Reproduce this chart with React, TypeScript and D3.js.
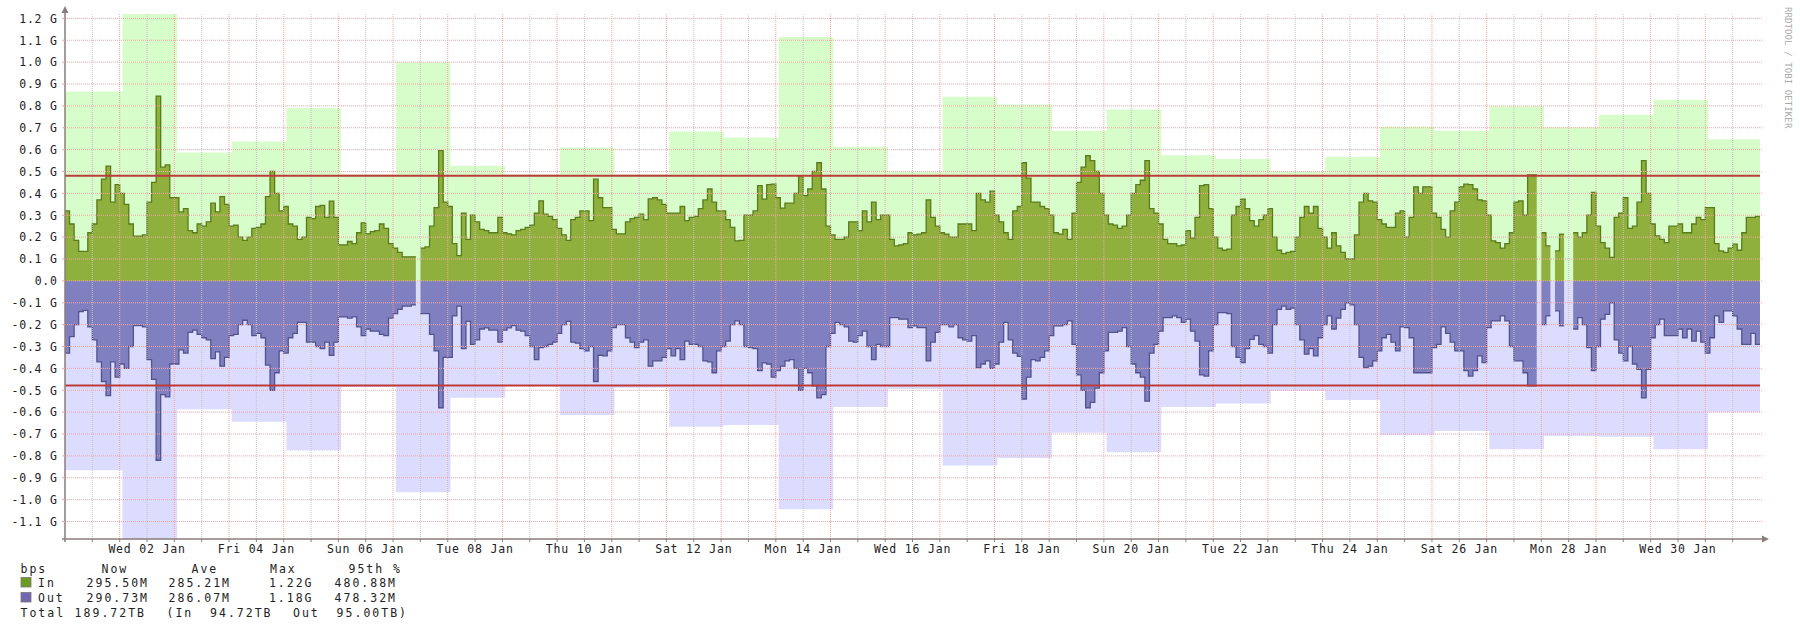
import React from 'react';
import * as d3 from 'd3';

// ---------- data (values in G bit/s) ----------
const START = Date.UTC(2019, 0, 1);
const END = Date.UTC(2019, 1, 1);
const DAY = 86400e3;
const STEP_HOURS = 2;
const MAX_OFFSET_HOURS = 1.2;

type V = number | null;

const inDays: V[][] = [
  [0.32, 0.26, 0.185, 0.135, 0.135, 0.22, 0.26, 0.37, 0.465, 0.525, 0.36, 0.44],
  [0.40, 0.35, 0.26, 0.205, 0.205, 0.21, 0.36, 0.45, 0.845, 0.52, 0.53, 0.38],
  [0.38, 0.315, 0.33, 0.23, 0.22, 0.26, 0.25, 0.27, 0.355, 0.315, 0.385, 0.35],
  [0.25, 0.255, 0.2, 0.185, 0.2, 0.24, 0.245, 0.26, 0.385, 0.5, 0.40, 0.32],
  [0.34, 0.26, 0.25, 0.19, 0.2, 0.29, 0.285, 0.34, 0.345, 0.29, 0.365, 0.29],
  [0.165, 0.165, 0.18, 0.17, 0.22, 0.265, 0.215, 0.225, 0.23, 0.26, 0.24, 0.17],
  [0.15, 0.13, 0.11, 0.11, 0.11, null, 0.15, 0.155, 0.25, 0.335, 0.595, 0.36],
  [0.34, 0.17, 0.115, 0.31, 0.19, 0.30, 0.27, 0.235, 0.23, 0.22, 0.22, 0.29],
  [0.22, 0.215, 0.21, 0.23, 0.235, 0.245, 0.255, 0.31, 0.366, 0.305, 0.295, 0.28],
  [0.24, 0.21, 0.185, 0.28, 0.29, 0.32, 0.32, 0.275, 0.465, 0.38, 0.335, 0.335],
  [0.235, 0.215, 0.215, 0.27, 0.285, 0.29, 0.305, 0.28, 0.375, 0.38, 0.37, 0.35],
  [0.31, 0.31, 0.31, 0.34, 0.275, 0.29, 0.295, 0.33, 0.37, 0.42, 0.36, 0.32],
  [0.32, 0.28, 0.245, 0.183, 0.185, 0.3, 0.3, 0.32, 0.435, 0.374, 0.44, 0.442],
  [0.38, 0.333, 0.355, 0.355, 0.40, 0.48, 0.39, 0.42, 0.50, 0.54, 0.42, 0.25],
  [0.21, 0.19, 0.19, 0.2, 0.27, 0.27, 0.23, 0.32, 0.27, 0.36, 0.28, 0.30],
  [0.30, 0.19, 0.16, 0.165, 0.17, 0.22, 0.21, 0.214, 0.22, 0.37, 0.29, 0.25],
  [0.22, 0.214, 0.2, 0.2, 0.26, 0.26, 0.26, 0.23, 0.40, 0.37, 0.36, 0.41],
  [0.30, 0.27, 0.22, 0.19, 0.32, 0.34, 0.54, 0.47, 0.36, 0.36, 0.34, 0.33],
  [0.30, 0.22, 0.214, 0.235, 0.19, 0.31, 0.45, 0.52, 0.572, 0.55, 0.50, 0.40],
  [0.30, 0.26, 0.255, 0.24, 0.25, 0.30, 0.40, 0.44, 0.46, 0.55, 0.33, 0.31],
  [0.26, 0.19, 0.17, 0.17, 0.16, 0.165, 0.23, 0.195, 0.29, 0.435, 0.44, 0.33],
  [0.2, 0.15, 0.14, 0.145, 0.30, 0.34, 0.374, 0.33, 0.275, 0.25, 0.28, 0.30],
  [0.33, 0.2, 0.14, 0.125, 0.13, 0.135, 0.20, 0.29, 0.34, 0.31, 0.34, 0.24],
  [0.20, 0.15, 0.22, 0.16, 0.13, 0.10, 0.10, 0.21, 0.36, 0.40, 0.366, 0.36],
  [0.28, 0.26, 0.245, 0.245, 0.31, 0.32, 0.20, 0.29, 0.43, 0.40, 0.43, 0.43],
  [0.31, 0.29, 0.235, 0.20, 0.32, 0.36, 0.43, 0.442, 0.44, 0.42, 0.37, 0.366],
  [0.30, 0.183, 0.175, 0.15, 0.17, 0.22, 0.36, 0.366, 0.30, 0.485, 0.485, null],
  [0.22, 0.16, null, 0.137, 0.214, null, null, 0.22, 0.20, 0.22, 0.30, 0.404],
  [0.25, 0.175, 0.15, 0.107, 0.29, 0.31, 0.38, 0.24, 0.25, 0.36, 0.55, 0.40],
  [0.26, 0.206, 0.19, 0.175, 0.25, 0.25, 0.26, 0.22, 0.22, 0.26, 0.29, 0.28],
  [0.335, 0.335, 0.17, 0.137, 0.13, 0.15, 0.168, 0.14, 0.22, 0.29, 0.29, 0.295],
];

const outDays: V[][] = [
  [0.33, 0.255, 0.2, 0.14, 0.135, 0.21, 0.27, 0.37, 0.46, 0.525, 0.37, 0.44],
  [0.38, 0.40, 0.30, 0.205, 0.205, 0.21, 0.36, 0.45, 0.82, 0.52, 0.53, 0.38],
  [0.38, 0.315, 0.33, 0.235, 0.225, 0.245, 0.26, 0.27, 0.355, 0.325, 0.39, 0.35],
  [0.25, 0.245, 0.2, 0.18, 0.2, 0.25, 0.24, 0.26, 0.385, 0.5, 0.42, 0.32],
  [0.33, 0.26, 0.24, 0.19, 0.19, 0.28, 0.28, 0.30, 0.31, 0.28, 0.34, 0.28],
  [0.165, 0.165, 0.17, 0.165, 0.21, 0.25, 0.22, 0.23, 0.23, 0.245, 0.25, 0.17],
  [0.15, 0.13, 0.115, 0.115, 0.11, null, 0.15, 0.15, 0.245, 0.32, 0.58, 0.35],
  [0.35, 0.16, 0.115, 0.31, 0.185, 0.29, 0.27, 0.22, 0.215, 0.225, 0.225, 0.28],
  [0.225, 0.215, 0.205, 0.225, 0.23, 0.25, 0.30, 0.36, 0.305, 0.30, 0.29, 0.28],
  [0.24, 0.2, 0.185, 0.28, 0.285, 0.31, 0.32, 0.30, 0.46, 0.34, 0.343, 0.32],
  [0.214, 0.2, 0.2, 0.26, 0.28, 0.305, 0.28, 0.27, 0.39, 0.366, 0.366, 0.35],
  [0.31, 0.343, 0.31, 0.36, 0.275, 0.29, 0.29, 0.30, 0.366, 0.37, 0.42, 0.32],
  [0.30, 0.275, 0.2, 0.183, 0.2, 0.3, 0.305, 0.31, 0.41, 0.375, 0.38, 0.44],
  [0.41, 0.39, 0.366, 0.36, 0.40, 0.50, 0.40, 0.42, 0.48, 0.535, 0.52, 0.3],
  [0.24, 0.19, 0.2, 0.21, 0.275, 0.28, 0.25, 0.23, 0.30, 0.36, 0.29, 0.30],
  [0.30, 0.168, 0.168, 0.175, 0.175, 0.214, 0.206, 0.214, 0.214, 0.366, 0.28, 0.235],
  [0.2, 0.2, 0.21, 0.2, 0.26, 0.27, 0.275, 0.25, 0.397, 0.38, 0.366, 0.40],
  [0.38, 0.28, 0.19, 0.27, 0.33, 0.345, 0.54, 0.44, 0.36, 0.366, 0.35, 0.32],
  [0.25, 0.206, 0.206, 0.2, 0.183, 0.29, 0.43, 0.50, 0.58, 0.555, 0.49, 0.42],
  [0.32, 0.235, 0.235, 0.23, 0.214, 0.30, 0.38, 0.42, 0.44, 0.55, 0.33, 0.29],
  [0.23, 0.168, 0.168, 0.16, 0.168, 0.19, 0.175, 0.23, 0.275, 0.43, 0.435, 0.32],
  [0.2, 0.145, 0.145, 0.15, 0.30, 0.35, 0.374, 0.31, 0.267, 0.25, 0.29, 0.30],
  [0.33, 0.2, 0.13, 0.115, 0.13, 0.125, 0.2, 0.27, 0.335, 0.31, 0.343, 0.26],
  [0.2, 0.16, 0.22, 0.17, 0.13, 0.10, 0.11, 0.2, 0.35, 0.397, 0.39, 0.366],
  [0.32, 0.26, 0.245, 0.28, 0.32, 0.21, 0.214, 0.26, 0.42, 0.42, 0.42, 0.42],
  [0.305, 0.29, 0.21, 0.24, 0.28, 0.32, 0.32, 0.41, 0.435, 0.41, 0.343, 0.374],
  [0.214, 0.183, 0.183, 0.16, 0.183, 0.3, 0.366, 0.366, 0.42, 0.48, 0.48, null],
  [0.2, 0.16, null, 0.137, 0.206, null, null, 0.22, 0.168, 0.2, 0.305, 0.41],
  [0.3, 0.175, 0.153, 0.1, 0.27, 0.33, 0.366, 0.30, 0.38, 0.404, 0.535, 0.404],
  [0.26, 0.2, 0.175, 0.25, 0.25, 0.25, 0.22, 0.26, 0.22, 0.275, 0.23, 0.28],
  [0.33, 0.26, 0.16, 0.19, 0.137, 0.137, 0.16, 0.22, 0.29, 0.29, 0.24, 0.29],
];

const inMax = [0.866, 1.22, 0.587, 0.637, 0.79, 0.488, 1.0, 0.526, 0.487, 0.61, 0.488, 0.683, 0.656, 1.115, 0.613, 0.498,
  0.842, 0.806, 0.686, 0.784, 0.574, 0.557, 0.5, 0.566, 0.706, 0.686, 0.798, 0.702, 0.76, 0.828, 0.648];
const outMax = [0.866, 1.18, 0.587, 0.644, 0.775, 0.485, 0.966, 0.534, 0.482, 0.613, 0.488, 0.667, 0.659, 1.044, 0.577, 0.494,
  0.844, 0.81, 0.694, 0.783, 0.577, 0.56, 0.503, 0.545, 0.706, 0.686, 0.77, 0.709, 0.712, 0.77, 0.6];

const in95 = 0.48088;
const out95 = 0.47832;

const yTickValues = [-1.1, -1.0, -0.9, -0.8, -0.7, -0.6, -0.5, -0.4, -0.3, -0.2, -0.1, 0, 0.1, 0.2, 0.3, 0.4, 0.5, 0.6, 0.7, 0.8, 0.9, 1.0, 1.1, 1.2];
const xLabelDays = [2, 4, 6, 8, 10, 12, 14, 16, 18, 20, 22, 24, 26, 28, 30];
const xLabels = ['Wed 02 Jan', 'Fri 04 Jan', 'Sun 06 Jan', 'Tue 08 Jan', 'Thu 10 Jan', 'Sat 12 Jan', 'Mon 14 Jan', 'Wed 16 Jan',
  'Fri 18 Jan', 'Sun 20 Jan', 'Tue 22 Jan', 'Thu 24 Jan', 'Sat 26 Jan', 'Mon 28 Jan', 'Wed 30 Jan'];

const legendHeaders = ['Now', 'Ave', 'Max', '95th %'];
const legendIn = ['295.50M', '285.21M', '1.22G', '480.88M'];
const legendOut = ['290.73M', '286.07M', '1.18G', '478.32M'];
const totalAll = '189.72TB';
const totalIn = '94.72TB';
const totalOut = '95.00TB';

// ---------- layout ----------
const W = 1800, H = 628;
const PL = 65, PR = 1760, PT = 14, PB = 539;
const FONT = '"DejaVu Sans Mono", monospace';
const C = {
  inMax: '#d6fdca', outMax: '#dcdcfe', inFill: '#90b03e', inLine: '#5a7a1c', outFill: '#8080c0', outLine: '#52528e',
  red: '#bd3b3b', gridMajor: '#f5a3a3', gridMinor: '#c4c4c4', axis: '#8a7d7d', text: '#222',
};

type P = { t: number; v: number | null };

function seriesPoints(days: V[][]): P[] {
  const step = STEP_HOURS * 3600e3;
  const pts: P[] = [];
  days.forEach((vals, d) => vals.forEach((v, k) => {
    const t0 = START + d * DAY + k * step;
    if (v == null) pts.push({ t: t0, v: null });
    else { pts.push({ t: t0, v }); pts.push({ t: t0 + step, v }); }
  }));
  return pts;
}

function maxPoints(vals: number[]): P[] {
  const off = MAX_OFFSET_HOURS * 3600e3;
  const pts: P[] = [];
  vals.forEach((v, i) => {
    const s = i === 0 ? START : START + i * DAY + off;
    const e = i === vals.length - 1 ? END : START + (i + 1) * DAY + off;
    pts.push({ t: s, v }); pts.push({ t: e, v });
  });
  return pts;
}

export default function App() {
  const x = d3.scaleUtc().domain([START, END]).range([PL, PR]);
  const y = d3.scaleLinear().domain([-1.18, 1.22]).range([PB, PT]);

  const areaUp = d3.area<P>().defined(p => p.v != null).x(p => x(p.t)).y0(y(0)).y1(p => y(p.v as number));
  const areaDown = d3.area<P>().defined(p => p.v != null).x(p => x(p.t)).y0(y(0)).y1(p => y(-(p.v as number)));
  const lineUp = d3.line<P>().defined(p => p.v != null).x(p => x(p.t)).y(p => y(p.v as number));
  const lineDown = d3.line<P>().defined(p => p.v != null).x(p => x(p.t)).y(p => y(-(p.v as number)));

  const inPts = seriesPoints(inDays);
  const outPts = seriesPoints(outDays);
  const inMaxPts = maxPoints(inMax);
  const outMaxPts = maxPoints(outMax);

  const halfDays = d3.range(1, 62).map(i => START + i * DAY / 2);
  const fmt = (v: number) => (Math.abs(v) < 1e-9 ? '0.0' : `${v.toFixed(1)} G`);

  const legendCols = [
    { head: 101.5, end: 149 },
    { head: 191.5, end: 231 },
    { head: 270, end: 313.5 },
    { head: 350, end: 397 },
  ];
  const lsAxis = 0.8;
  const lsLeg = 2.0;
  const fs = 11.5;

  return (
    <svg width={W} height={H} style={{ position: 'absolute', left: 0, top: 0, background: '#fff' }}
      fontFamily={FONT}>
      <rect x={0} y={0} width={W} height={H} fill="#fff" />
      {/* max areas */}
      <path d={areaUp(inMaxPts) || ''} fill={C.inMax} />
      <path d={areaDown(outMaxPts) || ''} fill={C.outMax} />
      {/* traffic areas */}
      <path d={areaUp(inPts) || ''} fill={C.inFill} />
      <path d={areaDown(outPts) || ''} fill={C.outFill} />
      <path d={lineUp(inPts) || ''} fill="none" stroke={C.inLine} strokeWidth={1.3} />
      <path d={lineDown(outPts) || ''} fill="none" stroke={C.outLine} strokeWidth={1.3} />

      {/* grid */}
      {halfDays.map((t, i) => (
        <line key={'v' + i} x1={x(t)} x2={x(t)} y1={PT} y2={PB}
          stroke={i % 2 === 1 ? C.gridMajor : C.gridMinor} strokeWidth={1} strokeDasharray="1,1" />
      ))}
      {yTickValues.map(v => (
        <line key={'h' + v} x1={PL} x2={PR + 3} y1={y(v)} y2={y(v)} stroke={C.gridMajor} strokeWidth={1} strokeDasharray="1,1" />
      ))}

      {/* 95th percentile lines */}
      <line x1={PL} x2={PR} y1={y(in95)} y2={y(in95)} stroke={C.red} strokeWidth={2} />
      <line x1={PL} x2={PR} y1={y(-out95)} y2={y(-out95)} stroke={C.red} strokeWidth={2} />

      {/* axes */}
      <line x1={PL} x2={PL} y1={PB + 3} y2={PT - 2} stroke={C.axis} strokeWidth={1.5} />
      <path d={`M${PL - 3.5},${PT - 1} L${PL + 3.5},${PT - 1} L${PL},${PT - 8} Z`} fill={C.axis} />
      <line x1={PL - 3} x2={PR + 2} y1={PB} y2={PB} stroke={C.axis} strokeWidth={1.5} />
      <path d={`M${PR + 2},${PB - 3.5} L${PR + 2},${PB + 3.5} L${PR + 9},${PB} Z`} fill={C.axis} />
      {halfDays.map((t, i) => (
        <line key={'xt' + i} x1={x(t)} x2={x(t)} y1={PB} y2={PB + 3} stroke={C.axis} strokeWidth={1} />
      ))}
      {yTickValues.map(v => (
        <line key={'yt' + v} x1={PL - 3} x2={PL} y1={y(v)} y2={y(v)} stroke={C.gridMajor} strokeWidth={1} />
      ))}

      {/* y labels */}
      {yTickValues.map(v => (
        <text key={'yl' + v} x={57.8} y={y(v) + 4.3} textAnchor="end" fontSize={fs} letterSpacing={lsAxis} fill={C.text}>
          {fmt(v)}
        </text>
      ))}
      {/* x labels */}
      {xLabelDays.map((d, i) => (
        <text key={'xl' + d} x={x(START + (d - 1 + 0.5) * DAY)} y={553} textAnchor="middle" fontSize={fs}
          letterSpacing={lsAxis} fill={C.text}>{xLabels[i]}</text>
      ))}

      {/* watermark */}
      <text transform="translate(1785,7) rotate(90)" fontSize={9} fill="#aaa" letterSpacing={0.1}>RRDTOOL / TOBI OETIKER</text>

      {/* legend */}
      <g fontSize={fs} fill={C.text} letterSpacing={lsLeg}>
        <text x={20.5} y={572.5}>bps</text>
        {legendHeaders.map((h, i) => (
          i < 3
            ? <text key={h} x={legendCols[i].head} y={572.5}>{h}</text>
            : <text key={h} x={legendCols[i].end + 5} y={572.5} textAnchor="end" xmlSpace="preserve">{h}</text>
        ))}
        <rect x={21} y={577.5} width={10} height={9.5} fill="#6f9a22" stroke="#777" strokeWidth={0.8} />
        <text x={38} y={587}>In</text>
        {legendIn.map((v, i) => (
          <text key={'li' + i} x={legendCols[i].end} y={587} textAnchor="end">{v}</text>
        ))}
        <rect x={21} y={592.5} width={10} height={9.5} fill="#7068b0" stroke="#777" strokeWidth={0.8} />
        <text x={38} y={602}>Out</text>
        {legendOut.map((v, i) => (
          <text key={'lo' + i} x={legendCols[i].end} y={602} textAnchor="end">{v}</text>
        ))}
        <text x={20.5} y={616.5}>Total</text>
        <text x={146} y={616.5} textAnchor="end">{totalAll}</text>
        <text x={166.5} y={616.5}>(In</text>
        <text x={272.5} y={616.5} textAnchor="end">{totalIn}</text>
        <text x={293} y={616.5}>Out</text>
        <text x={408} y={616.5} textAnchor="end">{totalOut + ')'}</text>
      </g>
    </svg>
  );
}
